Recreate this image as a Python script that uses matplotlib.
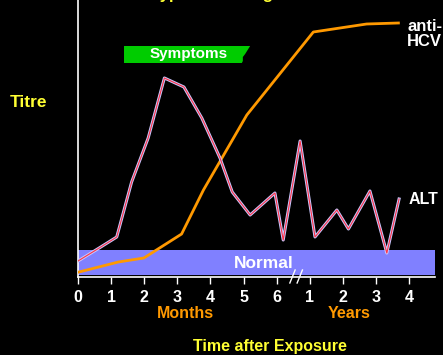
import matplotlib.pyplot as plt
from matplotlib.patches import Polygon, Rectangle

# time axis: 0-6 months, then 1-4 years on the same uniform scale
tick_pos = [0, 1, 2, 3, 4, 5, 6, 7, 8, 9, 10]
tick_labels = ["0", "1", "2", "3", "4", "5", "6", "1", "2", "3", "4"]

# ALT titre (arbitrary units)
alt_x = [0.0, 0.64, 1.17, 1.62, 2.12, 2.61, 3.20, 3.74, 4.29, 4.66, 5.20,
         5.95, 6.20, 6.71, 7.16, 7.82, 8.17, 8.82, 9.33, 9.70]
alt_y = [16, 29, 40, 95, 139, 199, 190, 159, 119, 85, 62,
         84, 37, 136, 40, 67, 48, 86, 24, 78]

# anti-HCV titre
hcv_x = [0.03, 1.22, 1.99, 3.13, 3.79, 5.10, 7.11, 8.72, 9.68]
hcv_y = [5, 15, 19, 43, 87, 162, 245, 253, 254]

normal_lo, normal_hi = 2, 27

BG = "black"
ORANGE = "#ff9900"
YELLOW = "#ffff33"
FONT = "Liberation Sans"

fig = plt.figure(figsize=(4.43, 3.55), dpi=100, facecolor=BG)
ax = fig.add_axes([78 / 443, 78 / 355, 357 / 443, 277 / 355])
ax.set_facecolor(BG)
ax.set_xlim(0, 357 / 33.1)
ax.set_ylim(0, 277)

# normal range band
ax.add_patch(Rectangle((0, normal_lo), 357 / 33.1, normal_hi - normal_lo,
                       facecolor="#8080ff", edgecolor="none", zorder=1))
ax.text(5.6, 14, "Normal", color="white", fontsize=12.5, fontweight="bold",
        family=FONT, ha="center", va="center", zorder=2)

# symptoms bar with a torn right edge
ax.add_patch(Polygon([(1.39, 214), (1.39, 231), (5.2, 231), (5.05, 223),
                      (4.98, 220), (4.98, 216), (4.95, 214)],
                     closed=True, facecolor="#00cc00", edgecolor="none", zorder=2))
ax.text(3.35, 223, "Symptoms", color="white", fontsize=11, fontweight="bold",
        family=FONT, ha="center", va="center", zorder=3)

# curves
ax.plot(hcv_x, hcv_y, color=ORANGE, lw=2.0, zorder=3)
ax.plot(alt_x, alt_y, color="#c8c8ff", lw=2.2, zorder=4)
ax.plot(alt_x, alt_y, color="#ff3344", lw=0.8, zorder=5)

# axes styling
for s in ["top", "right"]:
    ax.spines[s].set_visible(False)
for s in ["left", "bottom"]:
    ax.spines[s].set_color("white")
    ax.spines[s].set_linewidth(1.2)
ax.set_yticks([])
ax.set_xticks(tick_pos)
ax.set_xticklabels(tick_labels, color="white", fontsize=11.5, fontweight="bold",
                   family=FONT)
ax.tick_params(axis="x", colors="white", length=5, width=1, pad=4)

# axis break
for bx in [6.4, 6.62]:
    ax.plot([bx, bx + 0.16], [-6, 7], color="white", lw=1, clip_on=False, zorder=6)

# labels
ax.text(9.95, 243, "anti-\nHCV", color="white", fontsize=12, fontweight="bold",
        family=FONT, ha="left", va="center", linespacing=0.95)
ax.text(10.0, 78, "ALT", color="white", fontsize=11.5, fontweight="bold",
        family=FONT, ha="left", va="center")
fig.text(29 / 443, 1 - 102 / 355, "Titre", color=YELLOW, fontsize=12.5,
         fontweight="bold", family=FONT, ha="center", va="center")
fig.text(185 / 443, 1 - 313 / 355, "Months", color=ORANGE, fontsize=11.5,
         fontweight="bold", family=FONT, ha="center", va="center")
fig.text(349 / 443, 1 - 313 / 355, "Years", color=ORANGE, fontsize=11.5,
         fontweight="bold", family=FONT, ha="center", va="center")
fig.text(270 / 443, 1 - 347 / 355, "Time after Exposure", color=YELLOW,
         fontsize=11.5, fontweight="bold", family=FONT, ha="center", va="center")
# title mostly cut off at the top edge, as in the source slide
fig.text(250 / 443, 1 + 1 / 355, "Typical Serologic Course", color=YELLOW,
         fontsize=12, fontweight="bold", family=FONT, ha="center", va="baseline")

fig.savefig("out.png", dpi=100, facecolor=BG)
